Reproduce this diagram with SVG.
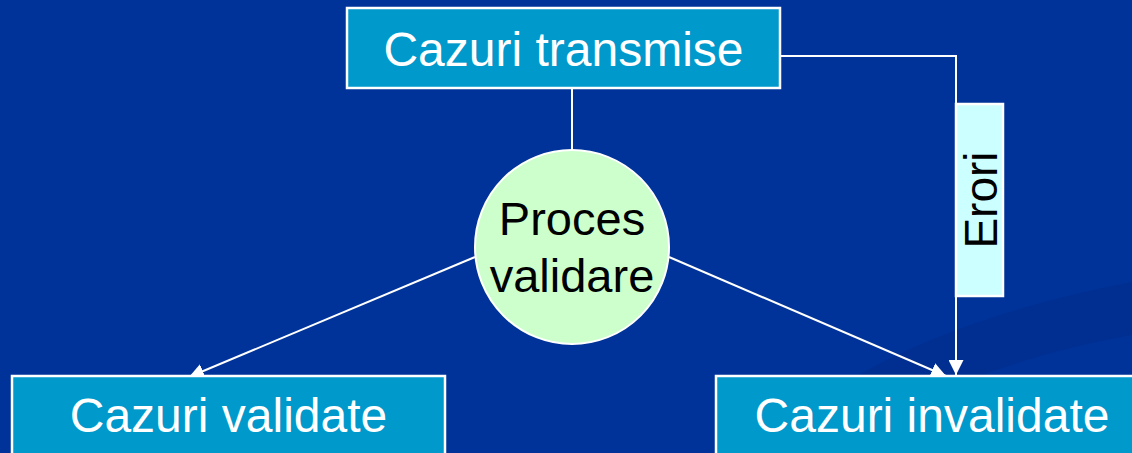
<svg xmlns="http://www.w3.org/2000/svg" width="1132" height="453" viewBox="0 0 1132 453">
  <style>
    .box { fill: #0099CC; stroke: #FFFFFF; stroke-width: 2.5; }
    .boxtext { font-family: "Liberation Sans", Arial, sans-serif; font-size: 48px; fill: #FFFFFF; text-anchor: middle; }
    .dark { font-family: "Liberation Sans", Arial, sans-serif; fill: #000000; text-anchor: middle; }
    .link { stroke: #FFFFFF; stroke-width: 2; fill: none; }
  </style>
  <defs>
    <marker id="arrow" viewBox="0 0 10 10" refX="10" refY="5" markerWidth="15" markerHeight="15" markerUnits="userSpaceOnUse" orient="auto">
      <path d="M0,0 L10,5 L0,10 Z" fill="#FFFFFF"/>
    </marker>
  </defs>

  <!-- background with a faint swoosh in the lower right -->
  <rect x="0" y="0" width="1132" height="453" fill="#003399"/>
  <path d="M750,453 Q880,330 1132,282 L1132,335 Q960,365 830,453 Z" fill="#002E8E" opacity="0.8"/>

  <!-- connectors -->
  <g id="connectors">
    <line class="link" x1="572" y1="88" x2="572" y2="150"/>
    <polyline class="link" points="780,56 956,56 956,375" marker-end="url(#arrow)"/>
    <line class="link" x1="475" y1="257" x2="189" y2="377" marker-end="url(#arrow)"/>
    <line class="link" x1="669" y1="257" x2="946" y2="376" marker-end="url(#arrow)"/>
  </g>

  <g id="erori-label">
    <rect x="956" y="104" width="47" height="192" fill="#CCFFFF" stroke="#FFFFFF" stroke-width="2.5"/>
    <text class="dark" font-size="46" transform="translate(997,200) rotate(-90)">Erori</text>
  </g>

  <g id="cazuri-transmise">
    <rect class="box" x="347" y="8" width="433" height="80"/>
    <text class="boxtext" x="563.5" y="66">Cazuri transmise</text>
  </g>

  <g id="proces-validare">
    <circle cx="572" cy="247" r="97" fill="#CCFFCC" stroke="#FFFFFF" stroke-width="2"/>
    <text class="dark" font-size="47" x="572" y="235">Proces</text>
    <text class="dark" font-size="47" x="572" y="292">validare</text>
  </g>

  <g id="cazuri-validate">
    <rect class="box" x="12" y="376" width="433" height="90"/>
    <text class="boxtext" x="228.5" y="432">Cazuri validate</text>
  </g>

  <g id="cazuri-invalidate">
    <rect class="box" x="716" y="376" width="440" height="90"/>
    <text class="boxtext" x="932" y="432">Cazuri invalidate</text>
  </g>
</svg>
